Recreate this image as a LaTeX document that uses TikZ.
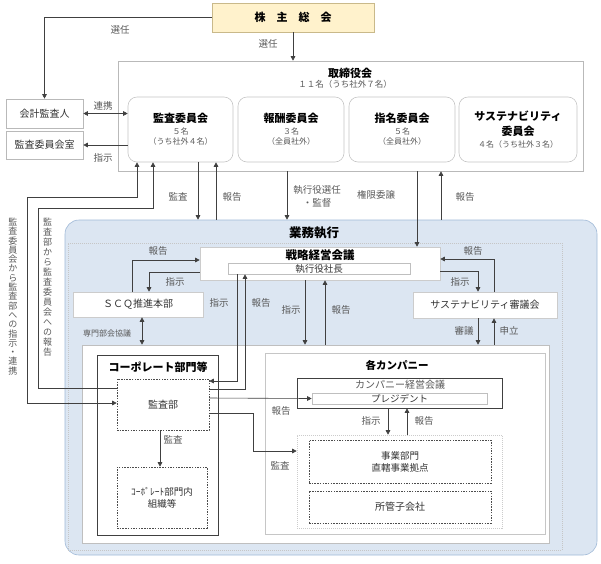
\documentclass[tikz,border=0pt]{standalone}
\usepackage{fontspec}
\setmainfont{Noto Sans CJK JP}
\usepackage{tikz}
\usetikzlibrary{arrows.meta,positioning,calc}
\definecolor{GyomuBlue}{RGB}{220,230,242}
\definecolor{GyomuEdge}{RGB}{160,185,215}
\definecolor{SoukaiFill}{RGB}{255,242,204}
\definecolor{SoukaiEdge}{RGB}{201,185,138}
\newcommand{\ttlfont}{\fontsize{11}{13}\selectfont\bfseries\color{black}}

\begin{document}
\begin{tikzpicture}[
  x=1pt, y=-1pt,
  box/.style={
    rectangle, draw=gray!55, fill=white, line width=0.6pt, inner sep=0pt,
    align=center, font=\fontsize{10}{12}\selectfont, text=black!80
  },
  commbox/.style={
    box, rounded corners=9pt, draw=gray!45, minimum height=65pt,
    font=\fontsize{8}{10}\selectfont, text=black!65
  },
  dotbox/.style={box, draw=black!70, dash pattern=on 1.5pt off 1.2pt},
  title/.style={font=\fontsize{11}{13}\selectfont\bfseries, inner sep=0pt},
  lbl/.style={font=\fontsize{9.5}{13}\selectfont, text=black!65, inner sep=0pt, align=center},
  tate/.style={lbl, font=\fontsize{9}{9.3}\selectfont},
  arr/.style={-{Triangle[length=4.5pt,width=4.5pt]}, black!75, line width=0.6pt},
  dbl/.style={{Triangle[length=4.5pt,width=4.5pt]}-{Triangle[length=4.5pt,width=4.5pt]}, black!75, line width=0.6pt}
]
\useasboundingbox (0,0) rectangle (601,563);

% --- Shareholders' meeting and board (top)
\node[box, draw=SoukaiEdge, fill=SoukaiFill, minimum width=162pt, minimum height=29pt,
      font=\fontsize{11}{13}\selectfont\bfseries, text=black] (soukai) at (293,17.5) {株　主　総　会};
\node[box, minimum width=465pt, minimum height=110pt] (board) at (350.5,116) {};
\node[title] (boardt) at (350,73) {取締役会};
\node[lbl, font=\fontsize{8.5}{10}\selectfont] (boardn) at (345,84) {１１名（うち社外７名）};

% --- Committees
\node[commbox, minimum width=105pt] (acb)    at (180.5,129.5) {{\ttlfont 監査委員会}\\[2pt]５名\\（うち社外４名）};
\node[commbox, minimum width=106pt] (hoshu)  at (291,129.5)   {{\ttlfont 報酬委員会}\\[2pt]３名\\（全員社外）};
\node[commbox, minimum width=106pt] (shimei) at (402,129.5)   {{\ttlfont 指名委員会}\\[2pt]５名\\（全員社外）};
\node[commbox, minimum width=118pt] (susc)   at (518,129.5)   {{\ttlfont サステナビリティ}\\[3pt]{\ttlfont 委員会}\\[2pt]４名（うち社外３名）};

% --- Auditor side boxes
\node[box, minimum width=77pt, minimum height=29pt] (kaikei)  at (44.5,113.5) {会計監査人};
\node[box, minimum width=77pt, minimum height=28pt] (acbroom) at (44.5,145)   {監査委員会室};

% --- Business execution area
\node[box, draw=GyomuEdge, fill=GyomuBlue, rounded corners=14pt, minimum width=532pt, minimum height=335pt] (gyomu) at (331,387.5) {};
\node[box, fill=none, draw=gray!45, dash pattern=on 1pt off 1pt, minimum width=494pt, minimum height=307pt] (gyomuin) at (315,396.5) {};
\node[title, font=\fontsize{12.5}{14}\selectfont\bfseries] (gyomut) at (314,233) {業務執行};

\node[box, draw=gray!40, minimum width=240pt, minimum height=33pt] (senryaku) at (320,263.5) {};
\node[title, font=\fontsize{11.5}{13}\selectfont\bfseries] (senryakut) at (320,255) {戦略経営会議};
\node[box, draw=gray!50, minimum width=182pt, minimum height=11pt, font=\fontsize{9.5}{10}\selectfont] (shacho) at (319,268.5) {執行役社長};

\node[box, draw=gray!40, minimum width=130pt, minimum height=25pt] (scq)   at (138,304.5) {ＳＣＱ推進本部};
\node[box, draw=gray!40, minimum width=144pt, minimum height=26pt] (sustc) at (485,305)   {サステナビリティ審議会};

% --- Corporate and companies
\node[box, draw=gray!50, minimum width=467pt, minimum height=198pt] (area) at (315.5,444) {};

\node[box, draw=black!75, minimum width=121pt, minimum height=180pt] (corp) at (157.5,445) {};
\node[title] (corpt) at (158,367) {コーポレート部門等};
\node[dotbox, minimum width=92pt, minimum height=51pt] (kansabu) at (163,404.5) {監査部};
\node[dotbox, minimum width=90pt, minimum height=61pt, font=\fontsize{9.5}{12}\selectfont] (corpin) at (162,497.5) {ｺｰﾎﾟﾚｰﾄ部門内\\組織等};

\node[box, draw=gray!45, minimum width=280pt, minimum height=181pt] (company) at (405,443.5) {};
\node[title, font=\fontsize{10.5}{12}\selectfont\bfseries] (companyt) at (397,365) {各カンパニー};
\node[box, draw=black!75, minimum width=205pt, minimum height=30pt] (ckaigi) at (399.5,393) {};
\node[lbl, font=\fontsize{10}{12}\selectfont] (ckaigit) at (400,385) {カンパニー経営会議};
\node[box, draw=gray!50, minimum width=175pt, minimum height=11pt, font=\fontsize{9.5}{10}\selectfont] (president) at (399.5,398.5) {プレジデント};

\node[box, fill=none, draw=gray!40, dash pattern=on 1pt off 1pt, minimum width=205pt, minimum height=93pt] (jigyo) at (399.5,481.5) {};
\node[dotbox, minimum width=182pt, minimum height=43pt, font=\fontsize{9.5}{12}\selectfont] (jigyobu)  at (400,461.5) {事業部門\\直轄事業拠点};
\node[dotbox, minimum width=182pt, minimum height=32pt] (kogaisha) at (400,507) {所管子会社};

% --- Arrows: shareholders
\draw[arr] (soukai.west) -| (kaikei.north);
\draw[arr] (soukai.south) -- (soukai.south |- board.north);

% --- Arrows: audit committee
\draw[dbl] (kaikei.east) -- (kaikei.east -| acb.west);
\draw[arr] (acbroom.east -| acb.west) -- (acbroom.east);
\draw[dbl] (acb.south -| 137,0) |- (27,197) |- (kansabu.west |- 0,403);
\draw[arr] (kansabu.west |- 0,388) -| (38,208) -| (acb.south -| 153,0);
\draw[arr] (acb.south -| 198,0) -- (gyomu.north -| 198,0);
\draw[arr] (gyomu.north -| 216,0) -- (acb.south -| 216,0);

% --- Arrows: board <-> execution
\draw[arr] (board.south -| 287,0) -- (gyomu.north -| 287,0);
\draw[arr] (board.south -| 417,0) -- (senryaku.north -| 417,0);
\draw[arr] (gyomu.north -| 441,0) -- (board.south -| 441,0);

% --- Arrows: strategy meeting
\draw[arr] (scq.north -| 132,0) |- (senryaku.west |- 0,260);
\draw[arr] (senryaku.west |- 0,272) -| (scq.north -| 149,0);
\draw[dbl] (scq.south -| 142,0) -- (area.north -| 142,0);
\draw[arr] (shacho.south -| 237,0) |- (kansabu.east |- 0,381);
\draw[arr] (kansabu.east |- 0,389) -| (shacho.south -| 245,0);
\draw[arr] (senryaku.south -| 305,0) -- (area.north -| 305,0);
\draw[arr] (area.north -| 325,0) -- (senryaku.south -| 325,0);
\draw[arr] (sustc.north -| 494,0) |- (senryaku.east |- 0,259);
\draw[arr] (senryaku.east |- 0,271) -| (sustc.north -| 478,0);
\draw[arr] (sustc.south -| 478,0) -- (area.north -| 478,0);
\draw[arr] (area.north -| 494,0) -- (sustc.south -| 494,0);

% --- Arrows: internal audit and companies
\draw[arr] (kansabu.east |- 0,398) -- (president.west);
\draw[arr] (kansabu.east |- 0,413) -| (253,451) -- (jigyo.west |- 0,451);
\draw[arr] (kansabu.south -| 160,0) -- (corpin.north -| 160,0);
\draw[arr] (ckaigi.south -| 388,0) -- (jigyo.north -| 388,0);
\draw[arr] (jigyo.north -| 407,0) -- (ckaigi.south -| 407,0);

% --- Labels
\node[lbl] (lsennin1) at (120,30)  {選任};
\node[lbl] (lsennin2) at (268,44)  {選任};
\node[lbl] (lrenkei)  at (103,106) {連携};
\node[lbl] (lshiji1)  at (103,158) {指示};
\node[lbl] (lkansa1)  at (178,197) {監査};
\node[lbl] (lhokoku1) at (232,197) {報告};
\node[lbl] (lsennin3) at (317,196) {執行役選任\\・監督};
\node[lbl] (lkengen)  at (376,195) {権限委譲};
\node[lbl] (lhokoku2) at (465,197) {報告};
\node[lbl] (lhokoku3) at (158,251) {報告};
\node[lbl] (lshiji2)  at (175,282) {指示};
\node[lbl, font=\fontsize{8}{10}\selectfont] (lsenmon) at (107,333) {専門部会協議};
\node[lbl] (lshiji3)  at (219,303) {指示};
\node[lbl] (lhokoku4) at (261,303) {報告};
\node[lbl] (lshiji4)  at (291,310) {指示};
\node[lbl] (lhokoku5) at (341,310) {報告};
\node[lbl] (lhokoku6) at (473,251) {報告};
\node[lbl] (lshiji5)  at (460,282) {指示};
\node[lbl] (lshingi)  at (464,331) {審議};
\node[lbl] (lmoushi)  at (509,331) {申立};
\node[lbl] (lhokoku7) at (281,411) {報告};
\node[lbl] (lkansa2)  at (280,466) {監査};
\node[lbl] (lkansa3)  at (173,440) {監査};
\node[lbl] (lshiji6)  at (371,421) {指示};
\node[lbl] (lhokoku8) at (424,421) {報告};
\node[tate] (ltate1) at (13,296.5) {監\\査\\委\\員\\会\\か\\ら\\監\\査\\部\\へ\\の\\指\\示\\・\\連\\携};
\node[tate, font=\fontsize{9}{10}\selectfont] (ltate2) at (47.5,287.5) {監\\査\\部\\か\\ら\\監\\査\\委\\員\\会\\へ\\の\\報\\告};

\end{tikzpicture}
\end{document}
